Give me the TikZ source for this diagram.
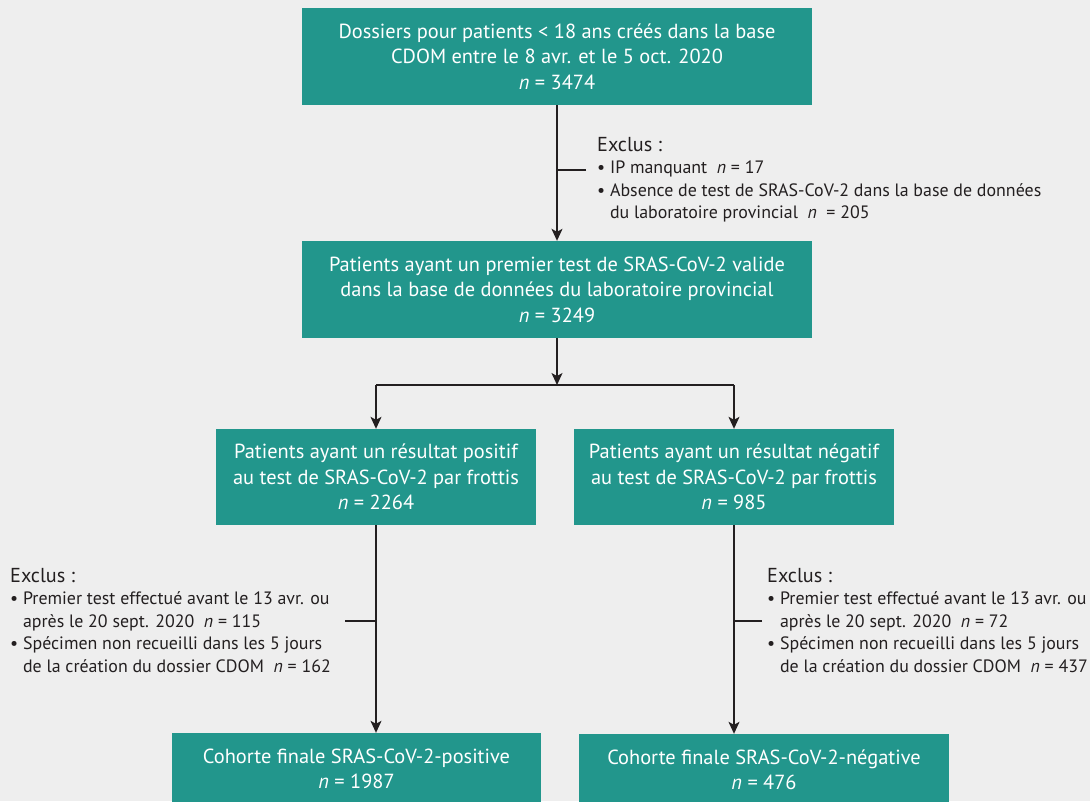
\documentclass[tikz,border=0pt]{standalone}
\usepackage{fontspec}
\setmainfont{PT Sans}
\usetikzlibrary{arrows.meta}

\definecolor{boxteal}{HTML}{22968C}
\definecolor{bggray}{HTML}{EEEEEE}
\definecolor{inkgray}{HTML}{231F20}

\newcommand{\boxfont}{\fontsize{20.4}{25.5}\selectfont}
\newcommand{\exclfont}{\fontsize{17.9}{22.5}\selectfont}
\newcommand{\exclhead}{{\fontsize{20.2}{22.5}\selectfont Exclus :}}
\newcommand{\bul}{\textbullet\ }
\newcommand{\nobul}{\phantom{\textbullet}\ }
\newcommand{\nn}{\textit{n}}

\begin{document}
\begin{tikzpicture}[x=1pt,y=-1pt,
  box/.style={fill=boxteal, text=white, align=center, inner sep=0pt, font=\boxfont},
  excl/.style={anchor=north west, align=left, text=inkgray, inner sep=0pt, font=\exclfont},
  ln/.style={draw=inkgray, line width=1.3pt},
  arr/.style={ln, -{Stealth[length=12pt,width=11pt,inset=3pt]}}]

\clip (0,0) rectangle (1090,801);
\fill[bggray] (0,0) rectangle (1090,801);

% boites
\node[box, minimum width=510pt, minimum height=97pt] (dossiers) at (557,56.5)
  {Dossiers pour patients < 18 ans créés dans la base\\CDOM entre le 8 avr. et le 5 oct. 2020\\\nn{} = 3474};
\node[box, minimum width=510pt, minimum height=97pt] (valide) at (557,289.5)
  {Patients ayant un premier test de SRAS-CoV-2 valide\\dans la base de données du laboratoire provincial\\\nn{} = 3249};
\node[box, minimum width=320pt, minimum height=96pt] (positif) at (376,477)
  {Patients ayant un résultat positif\\au test de SRAS-CoV-2 par frottis\\\nn{} = 2264};
\node[box, minimum width=320pt, minimum height=96pt] (negatif) at (734,477)
  {Patients ayant un résultat négatif\\au test de SRAS-CoV-2 par frottis\\\nn{} = 985};
\node[box, minimum width=369pt, minimum height=72pt] (cohpos) at (356.5,769)
  {Cohorte finale SRAS-CoV-2-positive\\\nn{} = 1987};
\node[box, minimum width=370pt, minimum height=72pt] (cohneg) at (764,770)
  {Cohorte finale SRAS-CoV-2-négative\\\nn{} = 476};

% exclusions
\node[excl] (exclA) at (597,137)
  {\exclhead\\\bul IP manquant \ \nn{} = 17\\\bul Absence de test de SRAS-CoV-2 dans la base de données\\\nobul du laboratoire provincial \ \nn{} \ = 205};
\node[excl] (exclB) at (10,568)
  {\exclhead\\\bul Premier test effectué avant le 13 avr. ou\\\nobul après le 20 sept. 2020 \ \nn{} = 115\\\bul Spécimen non recueilli dans les 5 jours\\\nobul de la création du dossier CDOM \ \nn{} = 162};
\node[excl] (exclC) at (767,568)
  {\exclhead\\\bul Premier test effectué avant le 13 avr. ou\\\nobul après le 20 sept. 2020 \ \nn{} = 72\\\bul Spécimen non recueilli dans les 5 jours\\\nobul de la création du dossier CDOM \ \nn{} = 437};

\coordinate (tickA) at (586,170);
\coordinate (tickB) at (345,621);
\coordinate (tickC) at (762,621);
\coordinate (split) at (557,385);
\coordinate (splitL) at (376,385);
\coordinate (splitR) at (734,385);

% connecteurs
\draw[arr] (dossiers.south) -- (valide.north);
\draw[ln] (tickA) -- (tickA -| dossiers.south);
\draw[arr] (valide.south) -- (split);
\draw[ln] (splitL) -- (splitR);
\draw[arr] (splitL) -- (positif.north);
\draw[arr] (splitR) -- (negatif.north);
\draw[arr] (positif.south) -- (positif.south |- cohpos.north);
\draw[ln] (tickB) -- (tickB -| positif.south);
\draw[arr] (negatif.south) -- (negatif.south |- cohneg.north);
\draw[ln] (tickC) -- (tickC -| negatif.south);

\end{tikzpicture}
\end{document}
